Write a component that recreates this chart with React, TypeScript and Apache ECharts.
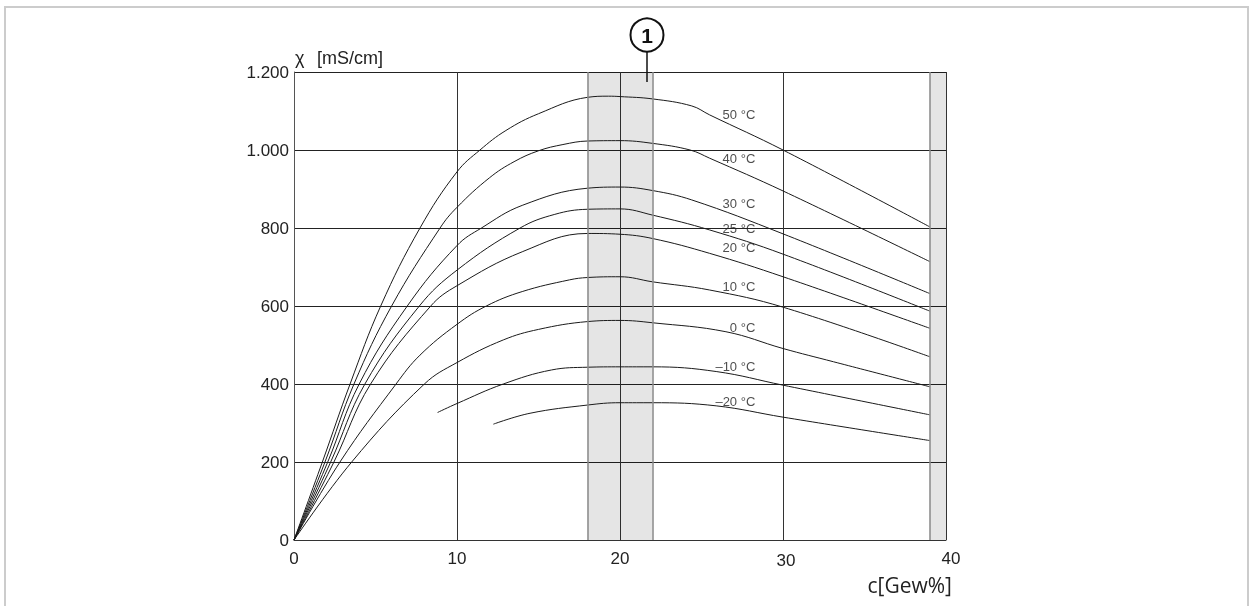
import React, { useEffect, useRef } from "react";
import * as echarts from "echarts";

// Temperature curve labels
const curveNames = ["50 °C", "40 °C", "30 °C", "25 °C", "20 °C", "10 °C", "0 °C", "–10 °C", "–20 °C"];

// Curves: [concentration c (Gew%), conductivity χ (mS/cm)]
const curve50: [number, number][] = [[0, 0], [1.74, 200], [3.44, 400], [5.32, 600], [7.73, 800], [10, 944], [11.41, 1000], [13, 1050], [15, 1093], [18, 1135], [19.3, 1138], [20, 1137], [22, 1131], [24.4, 1113], [25.5, 1090], [30, 1000], [39, 803]];
const curve40: [number, number][] = [[0, 0], [1.9, 200], [3.68, 400], [5.99, 600], [8.96, 800], [10, 853], [12, 929], [13.5, 970], [15, 998], [16.5, 1014], [18, 1023], [20, 1024], [22, 1017], [24.3, 1000], [25.5, 979], [30, 895], [39, 714]];
const curve30: [number, number][] = [[0, 0], [2.07, 200], [4.0, 400], [6.95, 600], [10, 755], [11.5, 800], [14, 858], [18, 902], [20, 905], [22, 896], [24.4, 872], [30, 785], [39, 632]];
const curve25: [number, number][] = [[0, 0], [2.25, 200], [4.35, 400], [7.69, 600], [10, 692], [13.87, 800], [16, 835], [18, 848], [20, 849], [22, 833], [25.5, 795], [30, 733], [39, 587]];
const curve20: [number, number][] = [[0, 0], [2.45, 200], [4.7, 400], [8.39, 600], [10, 652], [14, 739], [18, 786], [20, 784], [22, 773], [25.5, 735], [30, 675], [39, 543]];
const curve10: [number, number][] = [[0, 0], [2.82, 200], [6.26, 400], [7.73, 474], [10, 553], [11.8, 600], [14, 637], [16.9, 667], [18, 673], [20, 675], [22, 662], [25.5, 641], [30, 597], [39, 470]];
const curve0: [number, number][] = [[0, 0], [3.54, 200], [8.0, 400], [10, 455], [12.84, 513], [15, 540], [18, 560], [20, 563], [22, 557], [26.5, 534], [30, 491], [33.1, 457], [39, 393]];
const curveM10: [number, number][] = [[8.81, 327], [10, 350], [12.84, 400], [15.8, 436], [18, 443], [20, 444], [22, 444], [25.9, 432], [30, 397], [39, 321]];
const curveM20: [number, number][] = [[12.23, 297], [14.48, 325], [18, 346], [20, 352], [22, 352], [25.9, 344], [30, 315], [39, 255]];

const curves = [curve50, curve40, curve30, curve25, curve20, curve10, curve0, curveM10, curveM20];

// Curve label anchor points (right edge of text)
const labelX = 28.3;
const labelY = [1090, 977, 864, 800, 749, 649, 546, 444, 354];

// Shaded ranges (Gew%)
const bands: [number, number][] = [[18, 22], [39, 40]];
const bandEdges = [18, 22, 39];

// Axis ranges
const xMax = 40;
const xStep = 10;
const yMax = 1200;
const yStep = 200;

const fmtY = (v: number) => (v >= 1000 ? `${Math.floor(v / 1000)}.${String(v % 1000).padStart(3, "0")}` : String(v));
const fmtX = (v: number) => (v === 40 ? `{r40|${v}}` : v === 30 ? `{r30|${v}}` : `{n|${v}}`);

const tickFont = { color: "#222", fontSize: 17, fontFamily: "Liberation Sans, Arial, sans-serif" };

export default function App() {
  const ref = useRef<HTMLDivElement>(null);
  useEffect(() => {
    if (!ref.current) return;
    const chart = echarts.init(ref.current, null, { renderer: "svg" });
    const lineSeries = curves.map((c, i) => ({
      type: "line",
      name: curveNames[i],
      data: c,
      symbol: "none",
      smooth: 0.4,
      lineStyle: { color: "#1a1a1a", width: 1 },
      z: 3,
      silent: true,
    }));
    chart.setOption({
      animation: false,
      grid: { left: 294, right: 304, top: 72, bottom: 66, containLabel: false },
      xAxis: {
        type: "value",
        min: 0,
        max: xMax,
        interval: xStep,
        axisLine: { show: true, lineStyle: { color: "#333", width: 1 } },
        axisTick: { show: false },
        splitLine: { show: true, lineStyle: { color: "#333", width: 1 } },
        axisLabel: {
          ...tickFont,
          margin: 10,
          formatter: fmtX,
          rich: {
            n: { ...tickFont },
            r30: { ...tickFont, padding: [2, 0, 0, 6] },
            r40: { ...tickFont, padding: [0, 0, 0, 10] },
          },
        },
      },
      yAxis: {
        type: "value",
        min: 0,
        max: yMax,
        interval: yStep,
        axisLine: { show: true, lineStyle: { color: "#555", width: 1 } },
        axisTick: { show: false },
        splitLine: { show: true, lineStyle: { color: "#222", width: 1 } },
        axisLabel: { ...tickFont, margin: 5, formatter: fmtY },
      },
      series: [
        ...lineSeries,
        {
          type: "line",
          data: [],
          silent: true,
          z: 1,
          markArea: {
            silent: true,
            itemStyle: { color: "rgba(0,0,0,0.1)" },
            data: bands.map(([a, b]) => [{ xAxis: a }, { xAxis: b }]),
          },
          markLine: {
            silent: true,
            symbol: "none",
            label: { show: false },
            lineStyle: { color: "#888", width: 1.5, type: "solid" },
            data: bandEdges.map((e) => ({ xAxis: e })),
          },
        },
        {
          type: "scatter",
          data: labelY.map((y) => [labelX, y]),
          symbolSize: 0,
          silent: true,
          z: 4,
          label: {
            show: true,
            position: "left",
            distance: 0,
            color: "#222",
            fontSize: 13,
            fontFamily: "Liberation Sans, Arial, sans-serif",
            formatter: (p: any) => curveNames[p.dataIndex],
          },
        },
      ],
      graphic: [
        { type: "rect", shape: { x: 5, y: 7, width: 1243, height: 640 }, style: { fill: "none", stroke: "#cccccc", lineWidth: 2 }, silent: true },
        { type: "text", x: 295, y: 58, style: { text: "χ", fontSize: 18, fontFamily: "Liberation Sans, Arial, sans-serif", fill: "#222", verticalAlign: "middle" } },
        { type: "text", x: 317, y: 58, style: { text: "[mS/cm]", fontSize: 18, fontFamily: "Liberation Sans, Arial, sans-serif", fill: "#222", verticalAlign: "middle" } },
        { type: "text", x: 952, y: 585, style: { text: "c[Gew%]", fontSize: 21, fontFamily: "Open Sans, sans-serif", fill: "#222", align: "right", verticalAlign: "middle" } },
        { type: "circle", shape: { cx: 647, cy: 35, r: 16.5 }, style: { fill: "#fff", stroke: "#111", lineWidth: 2 } },
        { type: "text", x: 647, y: 35, style: { text: "1", fontSize: 21, fontWeight: "bold", fontFamily: "Liberation Sans, Arial, sans-serif", fill: "#111", align: "center", verticalAlign: "middle" } },
        { type: "line", shape: { x1: 647, y1: 52, x2: 647, y2: 82 }, style: { stroke: "#111", lineWidth: 1.5 }, z: 10 },
      ],
    });
    return () => chart.dispose();
  }, []);
  return <div ref={ref} style={{ position: "fixed", left: 0, top: 0, width: 1250, height: 606 }} />;
}
